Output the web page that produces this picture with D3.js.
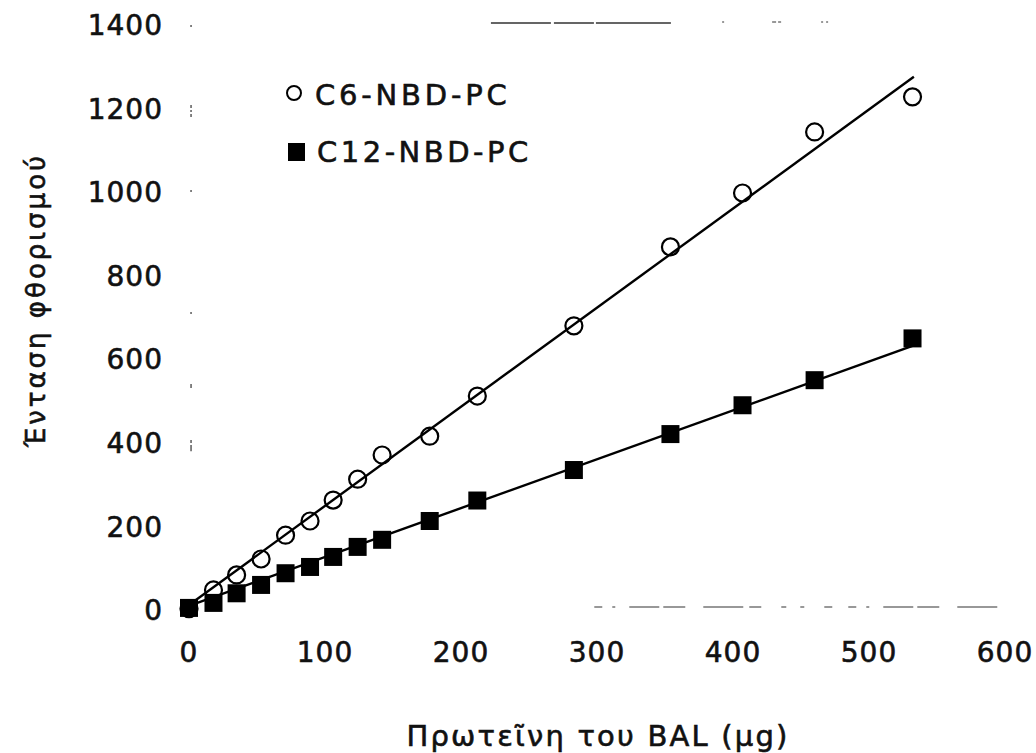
<!DOCTYPE html>
<html>
<head>
<meta charset="utf-8">
<script src="https://cdn.jsdelivr.net/npm/d3@7"></script>
<style>
  html, body { margin: 0; padding: 0; background: #fff; }
  svg { display: block; }
  text { font-family: "DejaVu Sans", sans-serif; fill: #111; stroke: #111; stroke-width: 0.6px; }
</style>
</head>
<body>
<svg id="chart" width="1036" height="753"></svg>
<script>
// Protein amount (µg) at which each fluorescence reading was taken
const protein = [0, 18, 35, 53, 71, 89, 106, 124, 142, 177, 212, 283, 354, 407, 460, 532];
// Fluorescence intensity, C6-NBD-PC
const c6Values = [3, 48, 84, 122, 179, 213, 263, 313, 371, 416, 512, 680, 869, 998, 1144, 1228];
// Fluorescence intensity, C12-NBD-PC
const c12Values = [5, 17, 40, 60, 88, 103, 127, 151, 168, 213, 262, 335, 421, 490, 550, 650];
// Linear fits: [protein, intensity] end points
const c6Fit = [[0, 12], [533, 1276]];
const c12Fit = [[0, 10], [532, 632]];
// Axis ticks
const xTicks = [0, 100, 200, 300, 400, 500, 600];
const yTicks = [0, 200, 400, 600, 800, 1000, 1200, 1400];
// Series labels
const seriesNames = ["C6-NBD-PC", "C12-NBD-PC"];

const svg = d3.select("#chart");

const x = d3.scaleLinear().domain([0, 600]).range([189, 1005]);
const y = d3.scaleLinear().domain([0, 1400]).range([610, 25]);

// Faint remnants of the plot frame
const frame = svg.append("g").attr("stroke", "#333").attr("fill", "none");
frame.append("line")
  .attr("x1", x(222)).attr("x2", x(355))
  .attr("y1", y(1400) - 2).attr("y2", y(1400) - 2)
  .attr("stroke-width", 1.4).attr("stroke-dasharray", "60 3 40 2 75 6");
frame.append("line")
  .attr("x1", x(392)).attr("x2", x(480))
  .attr("y1", y(1400) - 3).attr("y2", y(1400) - 3)
  .attr("stroke-width", 1).attr("stroke-dasharray", "2 48 4 2 3 40 2 3 2 60");
frame.append("line")
  .attr("x1", x(298)).attr("x2", x(597))
  .attr("y1", y(0) - 3).attr("y2", y(0) - 3)
  .attr("stroke-width", 1.2).attr("stroke-dasharray", "8 10 3 14 30 4 22 18 40 6 12 20 5 14 4 20 8 16");
frame.append("line")
  .attr("x1", x(1.5)).attr("x2", x(1.5))
  .attr("y1", y(1400)).attr("y2", y(380))
  .attr("stroke-width", 1.2)
  .attr("stroke-dasharray", "2 78 3 2 2 2 3 73 2 120 2 70 4 52 3");

// Y axis tick labels
svg.append("g")
  .selectAll("text")
  .data(yTicks)
  .join("text")
  .attr("x", 163)
  .attr("y", d => y(d))
  .attr("dy", "0.36em")
  .attr("text-anchor", "end")
  .attr("font-size", 28)
  .attr("letter-spacing", 1)
  .text(d => d);

// X axis tick labels
svg.append("g")
  .selectAll("text")
  .data(xTicks)
  .join("text")
  .attr("x", d => x(d))
  .attr("y", 662)
  .attr("text-anchor", "middle")
  .attr("font-size", 28)
  .attr("letter-spacing", 1)
  .text(d => d);

// Axis titles
svg.append("text")
  .attr("transform", `translate(45, 300) rotate(-90)`)
  .attr("text-anchor", "middle")
  .attr("font-size", 26)
  .attr("letter-spacing", 3)
  .text("Ένταση φθορισμού");

svg.append("text")
  .attr("x", 598)
  .attr("y", 746)
  .attr("text-anchor", "middle")
  .attr("font-size", 29)
  .attr("letter-spacing", 2.2)
  .text("Πρωτεῖνη του BAL (μg)");

// Fit lines
const line = d3.line().x(d => x(d[0])).y(d => y(d[1]));
svg.append("path").datum(c6Fit).attr("d", line)
  .attr("fill", "none").attr("stroke", "#000").attr("stroke-width", 2.4);
svg.append("path").datum(c12Fit).attr("d", line)
  .attr("fill", "none").attr("stroke", "#000").attr("stroke-width", 2.4);

// C6-NBD-PC: open circles
svg.append("g")
  .selectAll("circle")
  .data(protein.map((p, i) => [p, c6Values[i]]))
  .join("circle")
  .attr("cx", d => x(d[0]))
  .attr("cy", d => y(d[1]))
  .attr("r", 8.5)
  .attr("fill", "none")
  .attr("stroke", "#000")
  .attr("stroke-width", 2.2);

// C12-NBD-PC: filled squares
const sq = 18;
svg.append("g")
  .selectAll("rect")
  .data(protein.map((p, i) => [p, c12Values[i]]))
  .join("rect")
  .attr("x", d => x(d[0]) - sq / 2)
  .attr("y", d => y(d[1]) - sq / 2)
  .attr("width", sq)
  .attr("height", sq)
  .attr("fill", "#000");

// Legend
const legend = svg.append("g");
legend.append("circle")
  .attr("cx", 294).attr("cy", 93).attr("r", 7)
  .attr("fill", "none").attr("stroke", "#000").attr("stroke-width", 2);
legend.append("rect")
  .attr("x", 288).attr("y", 143).attr("width", 17).attr("height", 18)
  .attr("fill", "#000");
legend.selectAll("text.lg")
  .data(seriesNames)
  .join("text")
  .attr("class", "lg")
  .attr("x", (d, i) => i === 0 ? 315 : 317)
  .attr("y", (d, i) => i === 0 ? 105 : 162)
  .attr("font-size", 29)
  .attr("letter-spacing", (d, i) => i === 0 ? 3.8 : 3.5)
  .text(d => d);
</script>
</body>
</html>
